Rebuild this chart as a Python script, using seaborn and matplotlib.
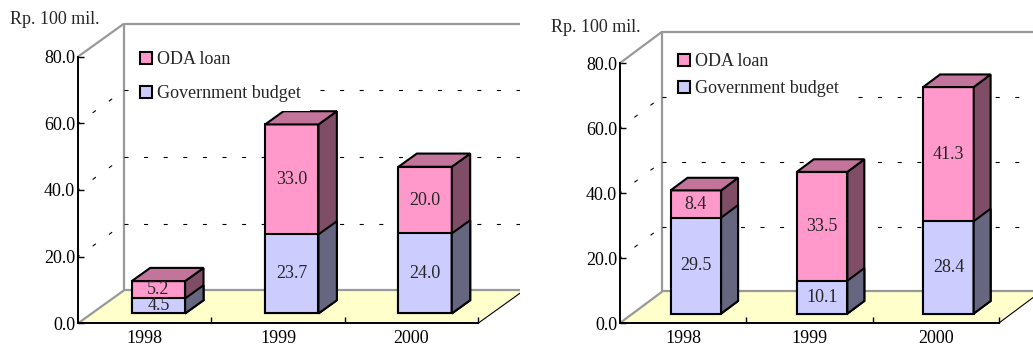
import matplotlib
matplotlib.use("Agg")
import matplotlib.pyplot as plt
import seaborn as sns
import numpy as np
from matplotlib.patches import Polygon
from matplotlib.transforms import Affine2D

# ---- data -------------------------------------------------------------
years = ["1998", "1999", "2000"]
series_names = ["ODA loan", "Government budget"]

left_gov = [4.5, 23.7, 24.0]
left_oda = [5.2, 33.0, 20.0]

right_gov = [29.5, 10.1, 28.4]
right_oda = [8.4, 33.5, 41.3]

y_ticks = [0, 20, 40, 60, 80]
unit_label = "Rp. 100 mil."

# ---- style ------------------------------------------------------------
sns.set_style("white")
plt.rcParams["font.family"] = ["Liberation Serif", "DejaVu Serif"]
plt.rcParams["lines.scale_dashes"] = False

PINK, PINK_SIDE, PINK_TOP = "#FF99CC", "#804D66", "#C2749A"
BLUE, BLUE_SIDE = "#CCCCFF", "#666680"
FLOOR, WALL = "#FFFFCC", "#999999"
PX = 0.72          # points per pixel at 100 dpi
FS = 13


def draw_panel(ax, gov, oda, xlim, ylim, depth, unit_pos, legend_anchor, label_spacing):
    dx, dy = depth
    gov = np.asarray(gov, dtype=float)
    oda = np.asarray(oda, dtype=float)
    total = gov + oda
    n = len(years)
    x0, x1 = -0.5, n - 0.5
    top = y_ticks[-1]
    far = xlim[1] + 1.0

    # floor
    ax.add_patch(Polygon([(x0, 0), (x1, 0), (x1 + dx, dy), (x0 + dx, dy)],
                         closed=True, facecolor=FLOOR, edgecolor="none", zorder=0.5))
    ax.plot([x1, x1 + dx], [0, dy], color="black", lw=0.8, zorder=1)

    # walls
    wall_kw = dict(color=WALL, lw=1.6, zorder=1, solid_capstyle="butt")
    ax.plot([x0, x0 + dx], [0, dy], **wall_kw)
    ax.plot([x0 + dx, far], [dy, dy], **wall_kw)
    ax.plot([x0 + dx, x0 + dx], [dy, top + dy], **wall_kw)
    ax.plot([x0, x0 + dx], [top, top + dy], **wall_kw)
    ax.plot([x0 + dx, far], [top + dy, top + dy], **wall_kw)

    # dashed gridlines on back and side walls
    for v in y_ticks[1:-1]:
        ax.plot([x0 + dx, far], [v + dy, v + dy], color="black", lw=0.8,
                linestyle=(0, (4 * PX, 15.6 * PX)), zorder=1)
        ax.plot([x0, x0 + dx], [v, v + dy], color="black", lw=0.8,
                linestyle=(2 * PX, (4 * PX, 16 * PX)), zorder=1)

    # stacked bars: full height in pink, budget part in blue over it
    bar_kw = dict(saturation=1, width=0.4, edgecolor="black", linewidth=1.5,
                  errorbar=None, ax=ax, zorder=3)
    sns.barplot(x=years, y=total, color=PINK, label=series_names[0], **bar_kw)
    sns.barplot(x=years, y=gov, color=BLUE, label=series_names[1], **bar_kw)
    pink_bars, blue_bars = ax.containers[0], ax.containers[1]

    # bars stand in the middle of the floor depth
    f0, fd = 0.3, 0.4
    ox, oy = f0 * dx, f0 * dy
    bx, by = fd * dx, fd * dy
    shift = Affine2D().translate(ox, oy) + ax.transData
    face_kw = dict(closed=True, edgecolor="black", lw=1.5, zorder=3, joinstyle="miter")
    for bars, side in ((pink_bars, PINK_SIDE), (blue_bars, BLUE_SIDE)):
        for p in bars:
            p.set_transform(shift)
            x, y = p.get_x() + ox, p.get_y() + oy
            w, h = p.get_width(), p.get_height()
            ax.add_patch(Polygon([(x + w, y), (x + w + bx, y + by),
                                  (x + w + bx, y + h + by), (x + w, y + h)],
                                 facecolor=side, **face_kw))
    for p in pink_bars:
        x, y = p.get_x() + ox, p.get_y() + oy
        w, h = p.get_width(), p.get_height()
        ax.add_patch(Polygon([(x, y + h), (x + w, y + h),
                              (x + w + bx, y + h + by), (x + bx, y + h + by)],
                             facecolor=PINK_TOP, **face_kw))

    # value labels on the front faces
    for i in range(n):
        ax.text(i + ox, oy + gov[i] / 2, f"{gov[i]:.1f}", ha="center", va="center",
                fontsize=FS, zorder=6)
        ax.text(i + ox, oy + gov[i] + oda[i] / 2, f"{oda[i]:.1f}", ha="center",
                va="center", fontsize=FS, zorder=6)

    # axes
    ax.set_xlim(*xlim)
    ax.set_ylim(*ylim)
    ax.set_xlabel("")
    ax.set_ylabel("")
    ax.set_facecolor("none")
    for s in ("top", "right"):
        ax.spines[s].set_visible(False)
    ax.spines["left"].set_position(("data", x0))
    ax.spines["left"].set_bounds(0, top)
    ax.spines["bottom"].set_position(("data", 0))
    ax.spines["bottom"].set_bounds(x0, x1)
    for s in ("left", "bottom"):
        ax.spines[s].set_color("black")
        ax.spines[s].set_linewidth(1.4)

    ax.set_yticks(y_ticks)
    ax.set_yticklabels([f"{v:.1f}" for v in y_ticks])
    ax.tick_params(axis="y", left=True, direction="in", length=4, width=1, pad=2,
                   labelsize=FS, colors="black")
    ax.set_xticks(range(n))
    ax.set_xticklabels(years)
    ax.set_xticks(np.arange(n) + 0.5, minor=True)
    ax.tick_params(axis="x", which="major", bottom=True, length=0, pad=5,
                   labelsize=FS, colors="black")
    ax.tick_params(axis="x", which="minor", bottom=True, direction="in", length=4,
                   width=1, colors="black")

    ax.text(unit_pos[0], unit_pos[1], unit_label, transform=ax.transAxes,
            ha="left", va="center", fontsize=FS)

    leg = ax.legend(handles=[pink_bars, blue_bars], labels=series_names,
                    loc="upper left", bbox_to_anchor=legend_anchor, borderaxespad=0,
                    borderpad=0.5, labelspacing=label_spacing, handlelength=0.66,
                    handleheight=0.66, handletextpad=0.28, fontsize=FS,
                    frameon=True, fancybox=False, edgecolor="none",
                    facecolor="white", framealpha=1)
    leg.set_zorder(4)


fig = plt.figure(figsize=(10.33, 3.47), dpi=100)
W, H = 1033, 347

ax_l = fig.add_axes([0, 0, 520 / W, 1])
draw_panel(ax_l, left_gov, left_oda,
           xlim=(-1.085, 2.815), ylim=(-7.1, 97.0), depth=(0.345, 9.9),
           unit_pos=(10 / 520, 1 - 20 / H),
           legend_anchor=(131 / 520, 1 - 42 / H), label_spacing=0.95)

ax_r = fig.add_axes([520 / W, 0, 513 / W, 1])
draw_panel(ax_r, right_gov, right_oda,
           xlim=(-1.292, 2.770), ylim=(-7.38, 99.4), depth=(0.335, 9.7),
           unit_pos=(31 / 513, 1 - 27 / H),
           legend_anchor=(149 / 513, 1 - 44 / H), label_spacing=0.56)

fig.savefig("out.png", dpi=100)
